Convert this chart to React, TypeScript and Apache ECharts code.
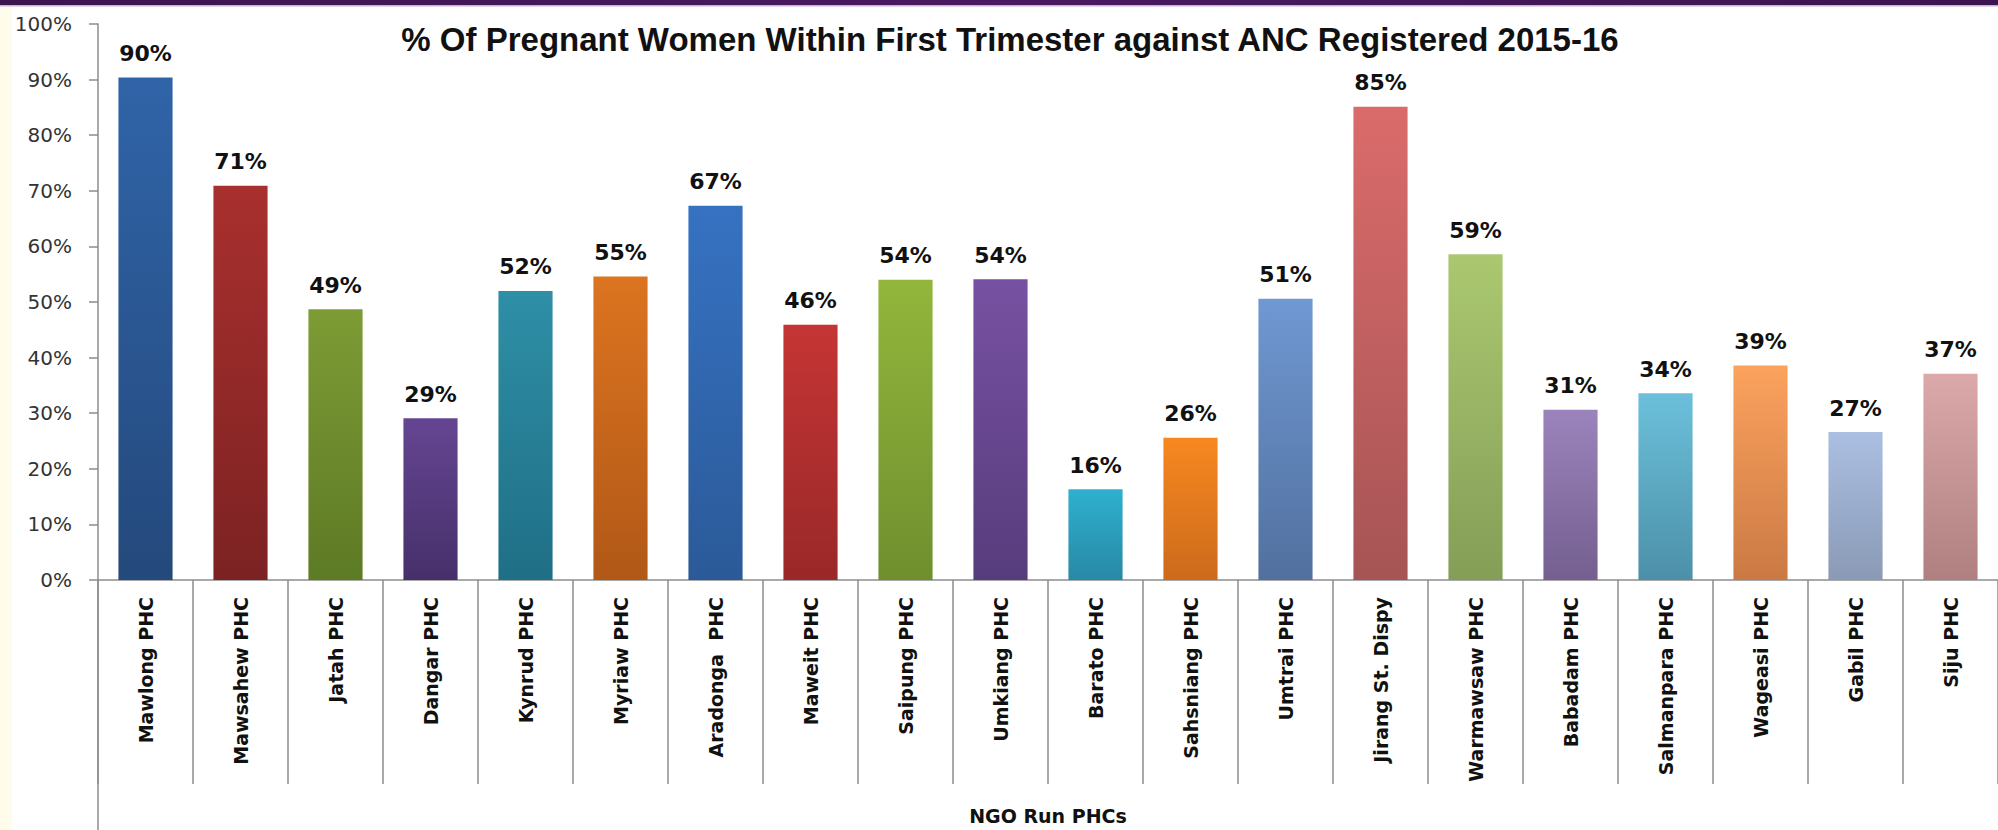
import React, { useEffect, useRef } from "react";
import * as echarts from "echarts";

const TITLE = "% Of Pregnant Women Within First Trimester against ANC Registered 2015-16";
const AXIS_NAME = "NGO Run PHCs";

const categories = [
  "Mawlong PHC", "Mawsahew PHC", "Jatah PHC", "Dangar PHC", "Kynrud PHC",
  "Myriaw PHC", "Aradonga  PHC", "Maweit PHC", "Saipung PHC", "Umkiang PHC",
  "Barato PHC", "Sahsniang PHC", "Umtrai PHC", "Jirang St. Dispy", "Warmawsaw PHC",
  "Babadam PHC", "Salmanpara PHC", "Wageasi PHC", "Gabil PHC", "Siju PHC",
];

const values = [
  90.4, 70.9, 48.7, 29.1, 52.0, 54.6, 67.3, 45.9, 54.0, 54.1,
  16.3, 25.6, 50.6, 85.1, 58.6, 30.6, 33.6, 38.6, 26.6, 37.1,
];

const topColors = [
  "#3064a8", "#a8302e", "#7d9c35", "#654592", "#2e8fa6",
  "#dc7420", "#3672c2", "#c53535", "#93b63c", "#7751a2",
  "#2fb0cf", "#f88820", "#7098d2", "#db6b6b", "#abc870",
  "#9b84bb", "#6cc0db", "#fba25e", "#abbfe2", "#dba9a9",
];

const bottomColors = [
  "#24497c", "#7c2222", "#5d7a25", "#46306a", "#1f6f86",
  "#b15817", "#2b5a98", "#9a2828", "#6f8f2e", "#573c7c",
  "#2789a5", "#cc6a1b", "#51709f", "#a65455", "#849e57",
  "#745f90", "#4c90a8", "#cb7944", "#8a9ab6", "#b07f80",
];

const yTicks = [0, 10, 20, 30, 40, 50, 60, 70, 80, 90, 100];

export default function App() {
  const ref = useRef<HTMLDivElement>(null);

  useEffect(() => {
    if (!ref.current) return;
    const chart = echarts.init(ref.current, null, { renderer: "svg" });

    const gridLeft = 98;
    const gridTop = 24;
    const gridBottom = 250;
    const axisY = 830 - gridBottom;

    const option: any = {
      animation: false,
      backgroundColor: "#ffffff",
      title: {
        text: TITLE,
        left: 1005,
        top: 18,
        textAlign: "center",
        textStyle: {
          fontFamily: "Liberation Sans, Arial, sans-serif",
          fontWeight: "bold",
          fontSize: 33,
          color: "#111111",
        },
      },
      grid: { left: gridLeft, right: 0, top: gridTop, bottom: gridBottom, containLabel: false },
      xAxis: {
        type: "category",
        data: categories,
        name: AXIS_NAME,
        nameLocation: "middle",
        nameGap: 226,
        nameTextStyle: {
          fontFamily: "DejaVu Sans, sans-serif",
          fontWeight: "bold",
          fontSize: 19,
          color: "#111111",
          verticalAlign: "top",
        },
        axisLine: { show: true, lineStyle: { color: "#8c8c8c", width: 1.5 } },
        axisTick: {
          show: true,
          interval: 0,
          length: 204,
          lineStyle: { color: "#8c8c8c", width: 1.5 },
        },
        axisLabel: {
          interval: 0,
          rotate: 90,
          margin: 17,
          fontFamily: "DejaVu Sans, sans-serif",
          fontWeight: "bold",
          fontSize: 19,
          color: "#111111",
        },
      },
      yAxis: {
        type: "value",
        min: 0,
        max: 100,
        interval: 10,
        axisLine: { show: true, lineStyle: { color: "#8c8c8c", width: 1.5 } },
        axisTick: { show: true, length: 9, lineStyle: { color: "#8c8c8c", width: 1.5 } },
        splitLine: { show: false },
        axisLabel: {
          margin: 26,
          fontFamily: "DejaVu Sans, sans-serif",
          fontSize: 20,
          color: "#333333",
          formatter: (v: number) => (yTicks.includes(v) ? `${v}%` : ""),
        },
      },
      series: [
        {
          type: "bar",
          barCategoryGap: "43%",
          data: values.map((v, i) => ({
            value: v,
            itemStyle: {
              color: {
                type: "linear",
                x: 0,
                y: 0,
                x2: 0,
                y2: 1,
                colorStops: [
                  { offset: 0, color: topColors[i] },
                  { offset: 1, color: bottomColors[i] },
                ],
              },
            },
          })),
          label: {
            show: true,
            position: "top",
            distance: 13,
            fontFamily: "DejaVu Sans, sans-serif",
            fontWeight: "bold",
            fontSize: 22,
            color: "#111111",
            formatter: (p: any) => `${Math.round(p.value)}%`,
          },
        },
      ],
      graphic: [
        {
          type: "rect",
          shape: { x: 0, y: 0, width: 12, height: 830 },
          style: { fill: "#fffcec" },
          silent: true,
          z: -1,
        },
        {
          type: "rect",
          shape: { x: 0, y: 0, width: 1998, height: 5 },
          style: {
            fill: {
              type: "linear",
              x: 0,
              y: 0,
              x2: 1,
              y2: 0,
              colorStops: [
                { offset: 0, color: "#3c1450" },
                { offset: 0.5, color: "#4a1a62" },
                { offset: 1, color: "#3c1450" },
              ],
            },
          },
          silent: true,
        },
        {
          type: "rect",
          shape: { x: 0, y: 5, width: 1998, height: 1.5 },
          style: { fill: "#c5b2d2" },
          silent: true,
        },
        {
          type: "line",
          shape: { x1: gridLeft, y1: axisY, x2: gridLeft, y2: 830 },
          style: { stroke: "#8c8c8c", lineWidth: 1.5 },
          silent: true,
        },
      ],
    };

    chart.setOption(option);
    return () => chart.dispose();
  }, []);

  return <div ref={ref} style={{ width: 1998, height: 830, position: "fixed", left: 0, top: 0 }} />;
}
